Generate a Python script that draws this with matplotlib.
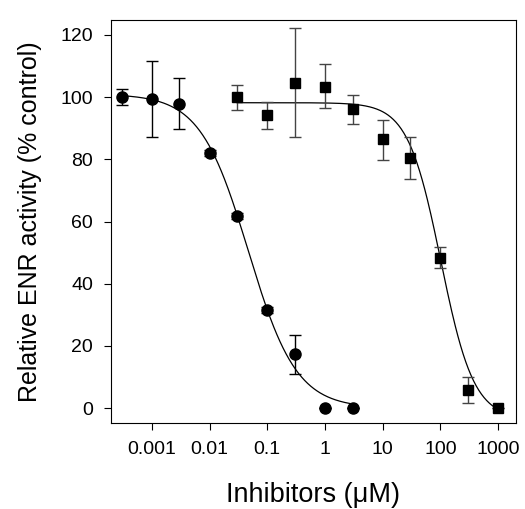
import numpy as np
import matplotlib
matplotlib.use("Agg")
import matplotlib.pyplot as plt

plt.rcParams['font.family'] = ['Liberation Sans', 'DejaVu Sans']

# Circles series
circ_x = [0.0003, 0.001, 0.003, 0.01, 0.03, 0.1, 0.3, 1, 3]
circ_y = [100.0, 99.5, 97.8, 82.1, 61.8, 31.5, 17.3, 0.1, 0.1]
circ_lo = [2.5, 12.3, 8.1, 1.0, 1.0, 1.0, 6.4, 0.0, 0.0]
circ_hi = [2.5, 12.1, 8.2, 1.0, 1.0, 1.0, 6.2, 0.0, 0.0]
circ_fit = dict(top=101.0, bottom=0.0, ic50=0.0469, hill=1.04)

# Squares series
sq_x = [0.03, 0.1, 0.3, 1, 3, 10, 30, 100, 300, 1000]
sq_y = [100.1, 94.1, 104.6, 103.3, 96.1, 86.4, 80.4, 48.3, 5.7, 0.1]
sq_lo = [4.1, 4.3, 17.4, 6.9, 4.7, 6.7, 6.8, 3.3, 4.2, 0.0]
sq_hi = [3.9, 4.3, 17.6, 7.2, 4.5, 6.4, 6.8, 3.4, 4.4, 0.0]
sq_fit = dict(top=98.2, bottom=-3.5, ic50=102.0, hill=1.52)

xticks = [0.001, 0.01, 0.1, 1, 10, 100, 1000]
xtick_labels = ['0.001', '0.01', '0.1', '1', '10', '100', '1000']
yticks = [0, 20, 40, 60, 80, 100, 120]


def logistic(x, p):
    return p['bottom'] + (p['top'] - p['bottom']) / (1 + (x / p['ic50']) ** p['hill'])


fig = plt.figure(figsize=(5.25, 5.09), dpi=100)
ax = fig.add_axes([111/525, 86/509, 405/525, 403/509])

xc = np.logspace(np.log10(circ_x[0]), np.log10(circ_x[-1]), 300)
ax.plot(xc, logistic(xc, circ_fit), color='black', lw=0.9, zorder=2)
xs = np.logspace(np.log10(sq_x[0]), np.log10(sq_x[-1]), 300)
ax.plot(xs, logistic(xs, sq_fit), color='black', lw=0.9, zorder=2)

ax.errorbar(circ_x, circ_y, yerr=[circ_lo, circ_hi], fmt='o', color='black',
            ms=8, capsize=4.3, elinewidth=1.0, capthick=1.0, ecolor='black', zorder=3)
ax.errorbar(sq_x, sq_y, yerr=[sq_lo, sq_hi], fmt='s', color='black',
            ms=6.5, capsize=4.3, elinewidth=1.0, capthick=1.0, ecolor='#444444', zorder=3)

ax.set_xscale('log')
ax.set_xlim(1.95e-4, 2050)
ax.set_ylim(-4.8, 124.8)
ax.set_xticks(xticks)
ax.set_xticklabels(xtick_labels)
ax.minorticks_off()
ax.set_yticks(yticks)
ax.tick_params(direction='out', length=5, width=0.8, labelsize=14, pad=8,
               top=False, right=False)
for s in ax.spines.values():
    s.set_linewidth(0.8)

ax.set_xlabel('Inhibitors (\u03bcM)', fontsize=19.5, labelpad=17)
ax.set_ylabel('Relative ENR activity (% control)', fontsize=18, labelpad=13)

fig.savefig('out.png', dpi=100)
